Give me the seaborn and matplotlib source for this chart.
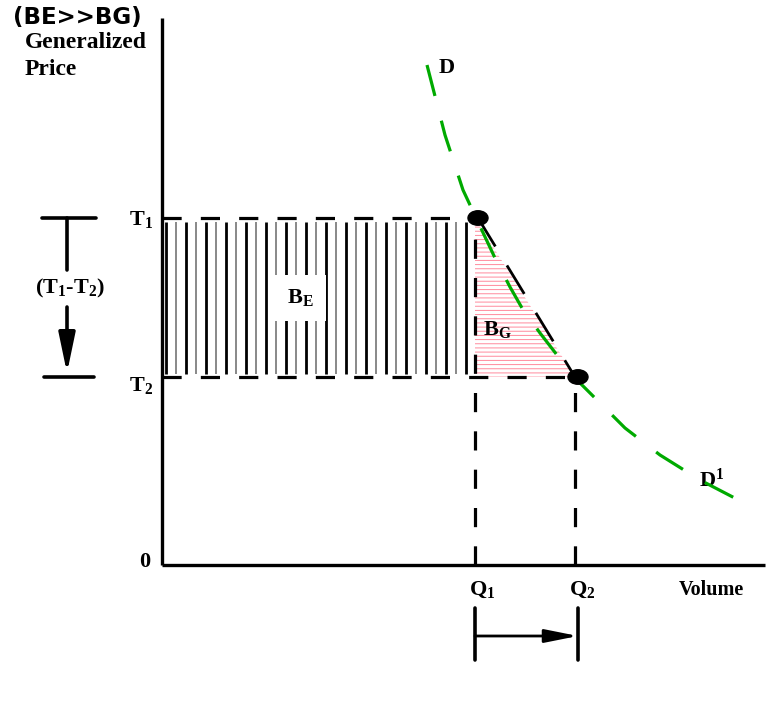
import numpy as np
import matplotlib
matplotlib.use("Agg")
import matplotlib.pyplot as plt
from matplotlib.patches import Ellipse
import seaborn as sns

# ---- values (origin = where the two axes meet) ----
Q1, Q2 = 31.3, 41.3          # volumes before / after
T1, T2 = 34.7, 18.8          # generalized price before / after

# demand curve D -> D1 (green dashed)
demand_x = [26.5, 28.3, 30.1, 31.6, 33.3, 34.8, 36.0, 37.8, 39.5, 41.3,
            43.8, 46.3, 49.8, 53.8, 59.0]
demand_y = [50.0, 43.0, 37.5, 34.3, 30.7, 27.8, 25.7, 23.2, 21.0, 18.7,
            16.2, 13.7, 11.0, 8.5, 5.8]

axis_top = 54.7
axis_right = 60.3

# ---- styling ----
sns.set_style("white")
plt.rcParams["font.family"] = ["Liberation Serif", "DejaVu Serif"]
plt.rcParams["font.weight"] = "bold"
plt.rcParams["mathtext.fontset"] = "custom"
plt.rcParams["mathtext.rm"] = "Liberation Serif:bold"
plt.rcParams["mathtext.it"] = "Liberation Serif:bold"
plt.rcParams["mathtext.bf"] = "Liberation Serif:bold"
plt.rcParams["hatch.linewidth"] = 0.7

fig = plt.figure(figsize=(7.79, 7.15), dpi=100)
ax = fig.add_axes([0, 0, 1, 1])
ax.set_xlim(-16.2, 61.7)
ax.set_ylim(-15.0, 56.5)
ax.axis("off")

# axes lines
ax.plot([0, 0], [0, axis_top], color="black", lw=2.4, solid_capstyle="butt")
ax.plot([0, axis_right], [0, 0], color="black", lw=2.4, solid_capstyle="butt")

# B_E area : vertical stripes
stripe_x = np.arange(0.4, Q1 - 0.2, 1.0)
stripe_col = ["black" if i % 2 == 0 else "#888888" for i in range(len(stripe_x))]
stripe_lw = [2.0 if i % 2 == 0 else 1.4 for i in range(len(stripe_x))]
ax.vlines(stripe_x, T2 + 0.3, T1 - 0.4, colors=stripe_col, lw=stripe_lw, zorder=1)

# B_G area : light red hatch in the triangle
ax.fill_between([Q1, Q2], [T2, T2], [T1, T2], facecolor="none",
                edgecolor="#ff8a9c", hatch="----", lw=0, zorder=1)

# dashed guide lines
dash_kw = dict(color="black", lw=2.3, dashes=(6, 6), zorder=3)
ax.plot([0, Q1], [T1, T1], **dash_kw)
ax.plot([0, Q2], [T2, T2], **dash_kw)
ax.plot([Q1, Q1], [0, T1], **dash_kw)
ax.plot([Q2, Q2], [0, T2], **dash_kw)

# straight segment between the two equilibria
ax.plot([Q1 + 0.3, Q2], [T1, T2], color="black", lw=2.0, dashes=(12, 8), zorder=3)

# demand curve
sns.lineplot(x=demand_x, y=demand_y, ax=ax, color="#00aa00", lw=2.3,
             dashes=False, sort=False, zorder=4)
ax.lines[-1].set_dashes((10, 8))

# equilibrium points
for qx, ty in [(Q1, T1), (Q2, T2)]:
    ax.add_patch(Ellipse((qx + 0.3, ty), 2.0, 1.45, color="black", zorder=5))

# left bracket with arrow (T1 - T2)
bx = -9.5
ax.plot([bx - 2.5, bx + 2.9], [T1, T1], color="black", lw=2.6)
ax.plot([bx - 2.3, bx + 2.7], [T2, T2], color="black", lw=2.6)
ax.plot([bx, bx], [T1, 29.5], color="black", lw=2.6)
ax.annotate("", xy=(bx, T2 + 0.4), xytext=(bx, 25.8),
            arrowprops=dict(arrowstyle="-|>,head_width=0.5,head_length=2.4",
                            color="black", lw=2.6, shrinkA=0, shrinkB=0))

# bottom bracket with arrow (Q1 -> Q2)
ax.plot([Q1, Q1], [-4.3, -9.5], color="black", lw=2.6)
ax.plot([Q2 + 0.3, Q2 + 0.3], [-4.3, -9.5], color="black", lw=2.6)
ax.annotate("", xy=(Q2 + 0.3, -7.1), xytext=(Q1, -7.1),
            arrowprops=dict(arrowstyle="-|>,head_width=0.4,head_length=2.0",
                            color="black", lw=2.0, shrinkA=0, shrinkB=0))

# labels
lab = dict(fontweight="bold", color="black")
ax.text(-13.7, 53.3, "Generalized\nPrice", fontsize=17, va="top", ha="left",
        linespacing=1.35, **lab)
ax.text(-1.2, 0.3, "0", fontsize=16, ha="right", va="center", **lab)
ax.text(-0.9, 34.6, r"T$_1$", fontsize=16, ha="right", va="center", **lab)
ax.text(-0.9, 17.9, r"T$_2$", fontsize=16, ha="right", va="center", **lab)
ax.text(-9.2, 27.7, r"(T$_1$-T$_2$)", fontsize=16, ha="center", va="center", **lab)
ax.text(32.0, -2.5, r"Q$_1$", fontsize=16, ha="center", va="center", **lab)
ax.text(42.0, -2.5, r"Q$_2$", fontsize=16, ha="center", va="center", **lab)
ax.text(54.9, -2.5, "Volume", fontsize=14.5, ha="center", va="center", **lab)
ax.text(28.5, 49.7, "D", fontsize=16, ha="center", va="center", **lab)
ax.text(55.0, 8.5, r"D$^1$", fontsize=16, ha="center", va="center", **lab)
ax.text(13.8, 26.7, r"B$_E$", fontsize=16, ha="center", va="center", zorder=6,
        bbox=dict(facecolor="white", edgecolor="none", pad=9), **lab)
ax.text(33.5, 23.5, r"B$_G$", fontsize=16, ha="center", va="center", zorder=6, **lab)

fig.text(13 / 779, 1 - 6 / 715, "(BE>>BG)", fontsize=16.5, fontweight="bold",
         family="DejaVu Sans", color="black", ha="left", va="top")

fig.savefig("out.png", dpi=100)
